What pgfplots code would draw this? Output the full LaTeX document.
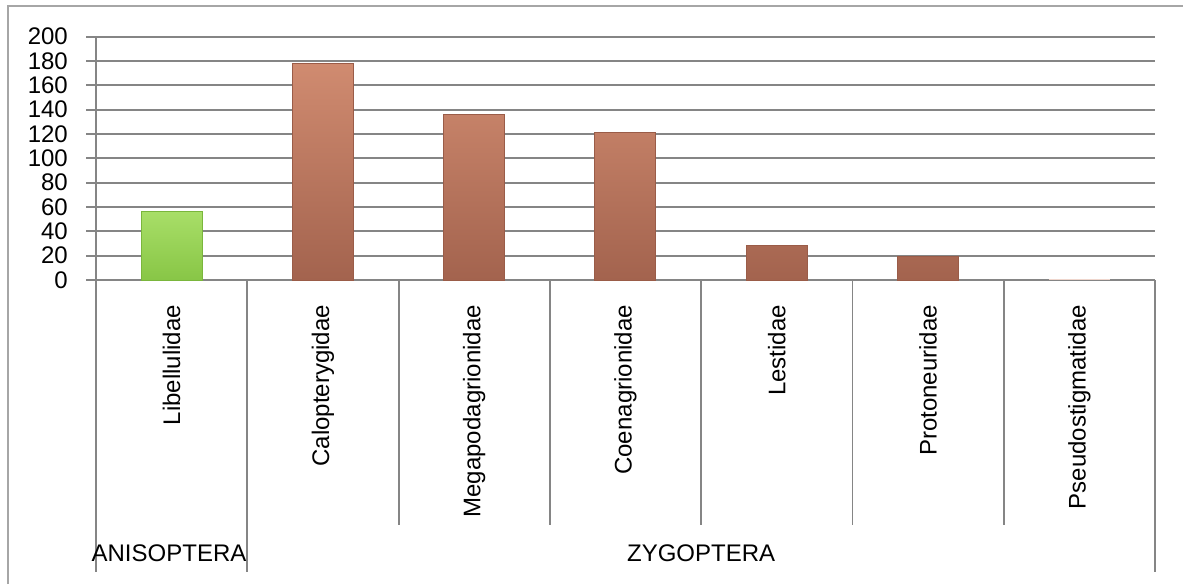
\documentclass[border=0pt]{standalone}
\usepackage{pgfplots}
\pgfplotsset{compat=1.18}
\usepackage{fontspec}
\setmainfont{Liberation Sans}
\definecolor{gridc}{HTML}{858585}
\definecolor{frame}{HTML}{A6A6A6}
\definecolor{brownTop}{HTML}{D08B70}
\definecolor{brownBot}{HTML}{A3634E}
\definecolor{brownEdge}{HTML}{9A5C48}
\definecolor{greenTop}{HTML}{A8DE68}
\definecolor{greenBot}{HTML}{88C646}
\definecolor{greenEdge}{HTML}{7AB63C}
\newcommand{\bigfont}{\fontsize{24}{28}\selectfont}
\begin{document}
\begin{tikzpicture}[x=1pt,y=1pt]
\path[use as bounding box] (0,0) rectangle (1183,-584);
\draw[frame, line width=1.5pt] (8,-584) -- (8,-6) -- (1183,-6);
\begin{axis}[
  at={(96pt,-280pt)}, anchor=south west,
  scale only axis, width=1059pt, height=243.3pt,
  xmin=-0.5, xmax=6.5, ymin=0, ymax=200,
  ytick={0,20,...,200},
  ymajorgrids, grid style={gridc, line width=1.8pt},
  axis x line*=bottom, axis y line*=left,
  axis line style={gridc, line width=1.8pt},
  xtick={0,...,6},
  xticklabels={Libellulidae,Calopterygidae,Megapodagrionidae,Coenagrionidae,Lestidae,Protoneuridae,Pseudostigmatidae},
  x tick style={draw=none},
  y tick style={gridc, line width=1.8pt},
  tick align=outside, major tick length=10pt,
  /pgf/number format/assume math mode=true,
  tick label style={font=\bigfont},
  xticklabel style={rotate=90, anchor=east, inner sep=0pt},
  yticklabel style={anchor=east, inner sep=0pt, xshift=-18pt},
  xticklabel shift=15pt,
  clip=false,
]
\addplot[ybar, bar width=61pt, bar shift=0pt, draw=greenEdge, line width=1pt, top color=greenTop, bottom color=greenBot] coordinates {(0,56)};
\addplot[ybar, bar width=61pt, bar shift=0pt, draw=brownEdge, line width=1pt, top color=brownTop, bottom color=brownBot] coordinates {(1,178) (2,136) (3,121) (4,28) (5,19)};
\addplot[ybar, bar width=61pt, bar shift=0pt, draw=none, fill=brownTop!35] coordinates {(6,1)};
\end{axis}
% separators below the axis
\foreach \x in {398.6,549.9,701.1,852.4,1003.7} {\draw[gridc, line width=1.8pt] (\x,-280) -- (\x,-525);}
\foreach \x in {96,247.3,1155} {\draw[gridc, line width=1.8pt] (\x,-280) -- (\x,-572);}
\node[font=\bigfont, inner sep=0pt] at (169,-553) {ANISOPTERA};
\node[font=\bigfont, inner sep=0pt] at (701.1,-553) {ZYGOPTERA};
\end{tikzpicture}
\end{document}
